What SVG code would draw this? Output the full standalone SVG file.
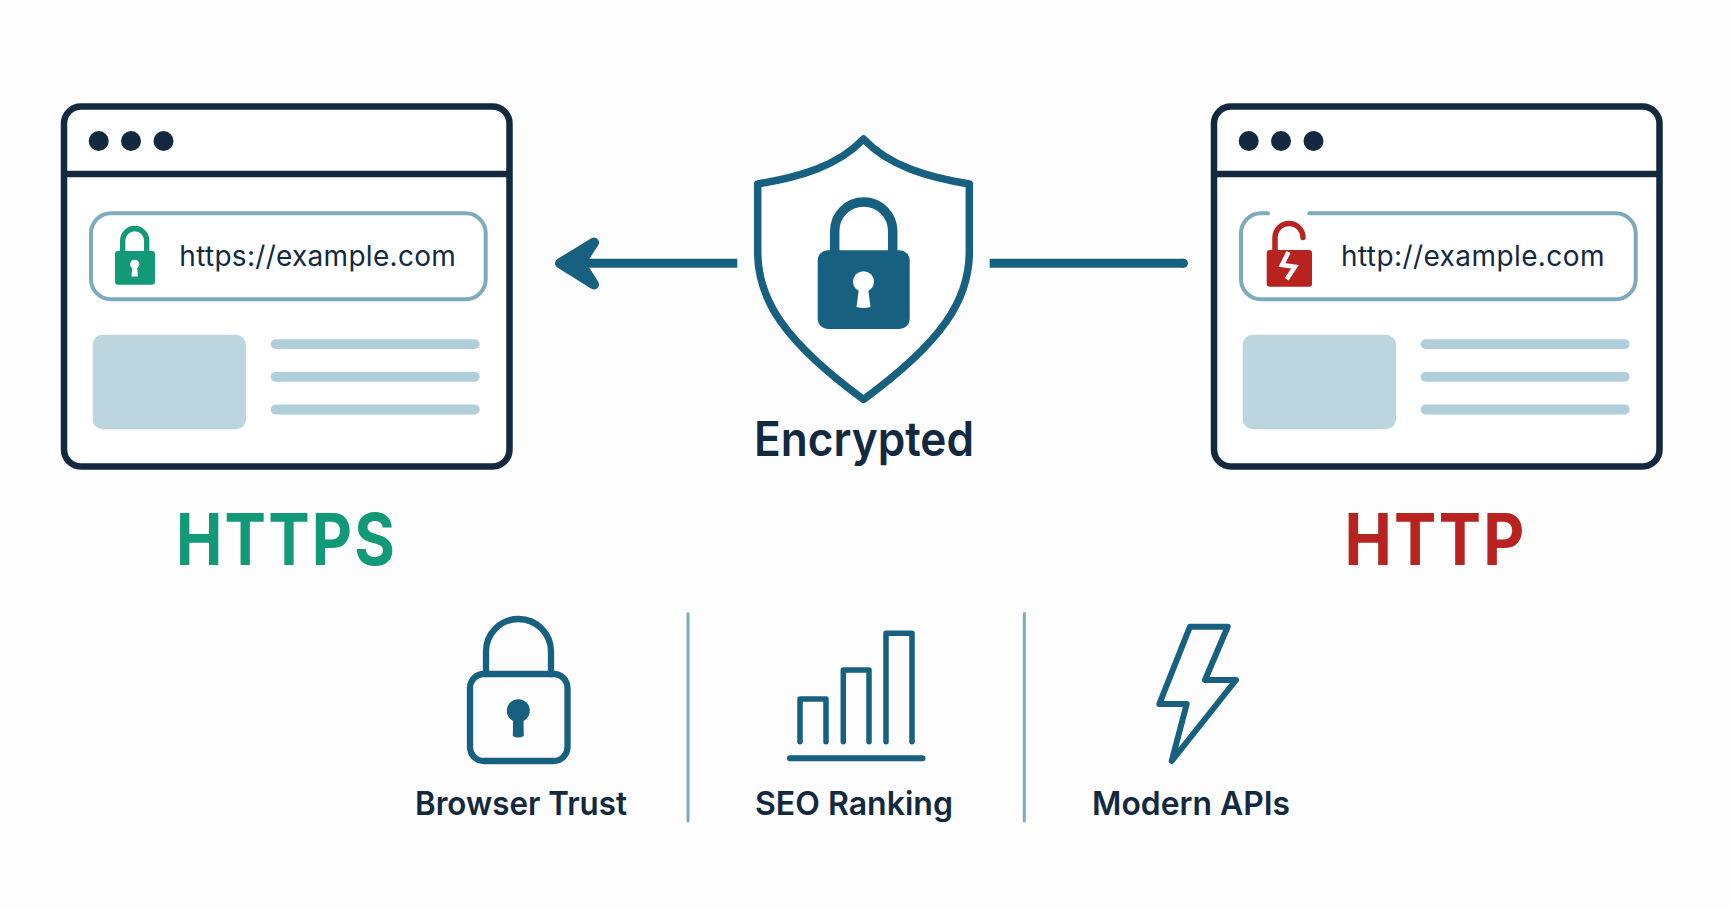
<svg xmlns="http://www.w3.org/2000/svg" width="1730" height="909" viewBox="0 0 1730 909">
<style>
text{font-family:"Inter","Liberation Sans",sans-serif}
.frame{fill:#fff;stroke:#12293f;stroke-width:6.5}
.div{stroke:#12293f;stroke-width:6.5}
.dot{fill:#12293f}
.url{fill:#fff;stroke:#7eaabb;stroke-width:4}
.img{fill:#bdd5df}
.ln{fill:#b0cfdb}
.urlt{font-size:28px;fill:#12293f;font-weight:400}
.big{font-size:71px;font-weight:700;letter-spacing:2.5px}
.lab{font-size:33px;font-weight:600;fill:#12293f}
.ico{fill:none;stroke:#17607f;stroke-width:6;stroke-linecap:round;stroke-linejoin:round}
.tf{fill:#17607f}
.sep{stroke:#7eaabb;stroke-width:3;stroke-linecap:round}
.conn{stroke:#17607f;stroke-width:9;fill:none}
</style>
<defs>
<g id="win">
<rect class="frame" x="64" y="106.5" width="445.5" height="360" rx="17"/>
<line class="div" x1="64" y1="174" x2="509.5" y2="174"/>
<circle class="dot" cx="98.7" cy="141" r="10"/><circle class="dot" cx="131" cy="141" r="10"/><circle class="dot" cx="163.5" cy="141" r="10"/>
<rect class="url" x="91" y="213.3" width="394.7" height="86" rx="20"/>
<rect class="img" x="92.7" y="334.7" width="153.3" height="94.6" rx="10"/>
<rect class="ln" x="270.7" y="339.2" width="209" height="9.8" rx="4.9"/>
<rect class="ln" x="270.7" y="371.9" width="209" height="9.8" rx="4.9"/>
<rect class="ln" x="270.7" y="404.6" width="209" height="9.8" rx="4.9"/>
</g>
</defs>
<rect width="1730" height="909" fill="#fdfdfd"/>
<g id="connectors">
<path class="conn" d="M737.3 263.3H585"/>
<path d="M560 263.3L594 242.5L580.500 263.300L594 284.500Z" fill="#17607f" stroke="#17607f" stroke-width="10" stroke-linejoin="round"/>
<path class="conn" d="M989.700 263.300H1183.500"/>
<circle cx="1183.500" cy="263.300" r="4.500" fill="#17607f"/>
</g>
<g id="https-window">
<use href="#win"/>
<path d="M122.700 252V240.500a12 12 0 0 1 24 0V252" fill="none" stroke="#129a78" stroke-width="5.300"/>
<rect x="115" y="251" width="40" height="33.700" rx="3" fill="#129a78"/>
<circle cx="134.700" cy="264.300" r="4.600" fill="#fff"/><path d="M132.500 265h4.400l1 11.500h-6.400z" fill="#fff"/>
<text class="urlt" x="179.300" y="266.300" textLength="276.500">https://example.com</text>
<text class="big" x="176" y="565" fill="#129a78" textLength="221" lengthAdjust="spacingAndGlyphs">HTTPS</text>
</g>
<g id="http-window">
<use href="#win" x="1150"/>
<rect x="1268" y="205" width="41.300" height="14" fill="#fff"/>
<circle cx="1268" cy="213.300" r="2" fill="#7eaabb"/><circle cx="1309.300" cy="213.300" r="2" fill="#7eaabb"/>
<path d="M1275 252V237.500a14 14 0 0 1 28 0" fill="none" stroke="#b8221f" stroke-width="5.500" stroke-linecap="round"/>
<rect x="1266.700" y="250" width="45.300" height="36.700" rx="3" fill="#b8221f"/>
<path d="M1288.500 252L1282 265L1295 266.700L1286.700 279.300" fill="none" stroke="#fff" stroke-width="4.500"/>
<text class="urlt" x="1341" y="266.300" textLength="263.500">http://example.com</text>
<text class="big" x="1344.500" y="565" fill="#b8221f" textLength="182" lengthAdjust="spacingAndGlyphs">HTTP</text>
</g>
<g id="encrypted-shield">
<path d="M863.500 139C838 166 800 177 757.700 184V252C757.700 300 785 342 863.500 399.500C942 342 969.300 300 969.300 252V184C927 177 889 166 863.500 139Z" fill="#fff" stroke="#17607f" stroke-width="7.500" stroke-linejoin="round"/>
<path d="M834.700 252V231a29 29 0 0 1 58 0V252" fill="none" stroke="#17607f" stroke-width="9.500"/>
<rect x="817.700" y="250.300" width="92" height="78.700" rx="10" fill="#17607f"/>
<circle cx="863.500" cy="281.700" r="10.500" fill="#fff"/>
<path d="M859 288h9l2.500 19q-7 2-14 0z" fill="#fff"/>
<text class="lab" x="754" y="456" style="font-size:48px" textLength="220" lengthAdjust="spacingAndGlyphs">Encrypted</text>
</g>
<g id="browser-trust">
<rect class="ico" x="470" y="674" width="97.500" height="87" rx="14" style="stroke-width:6.300"/>
<path class="ico" d="M486 674V651.500a32.500 32.500 0 0 1 65 0V674" style="stroke-width:6.300"/>
<circle class="tf" cx="518.300" cy="710.700" r="11.500"/>
<path class="tf" d="M513.300 712h10l.5 24q-5.500 3-11 0z"/>
<text class="lab" x="415" y="815" textLength="212" lengthAdjust="spacingAndGlyphs">Browser Trust</text>
</g>
<line class="sep" x1="688" y1="613.500" x2="688" y2="821"/>
<line class="sep" x1="1024.300" y1="613.500" x2="1024.300" y2="821"/>
<g id="seo-ranking">
<path class="ico" d="M800 741.700V699H826V741.700M843.300 741.700V670H869V741.700M886 741.700V633.300H912V741.700" style="stroke-width:5.500"/>
<line class="ico" x1="790" y1="758.300" x2="922.500" y2="758.300"/>
<text class="lab" x="755" y="815" textLength="198" lengthAdjust="spacingAndGlyphs">SEO Ranking</text>
</g>
<g id="modern-apis">
<path class="ico" d="M1190 626.700H1227.700L1205 680H1236L1171.700 761L1186.700 704H1159.300Z"/>
<text class="lab" x="1092" y="815" textLength="198" lengthAdjust="spacingAndGlyphs">Modern APIs</text>
</g>
</svg>
